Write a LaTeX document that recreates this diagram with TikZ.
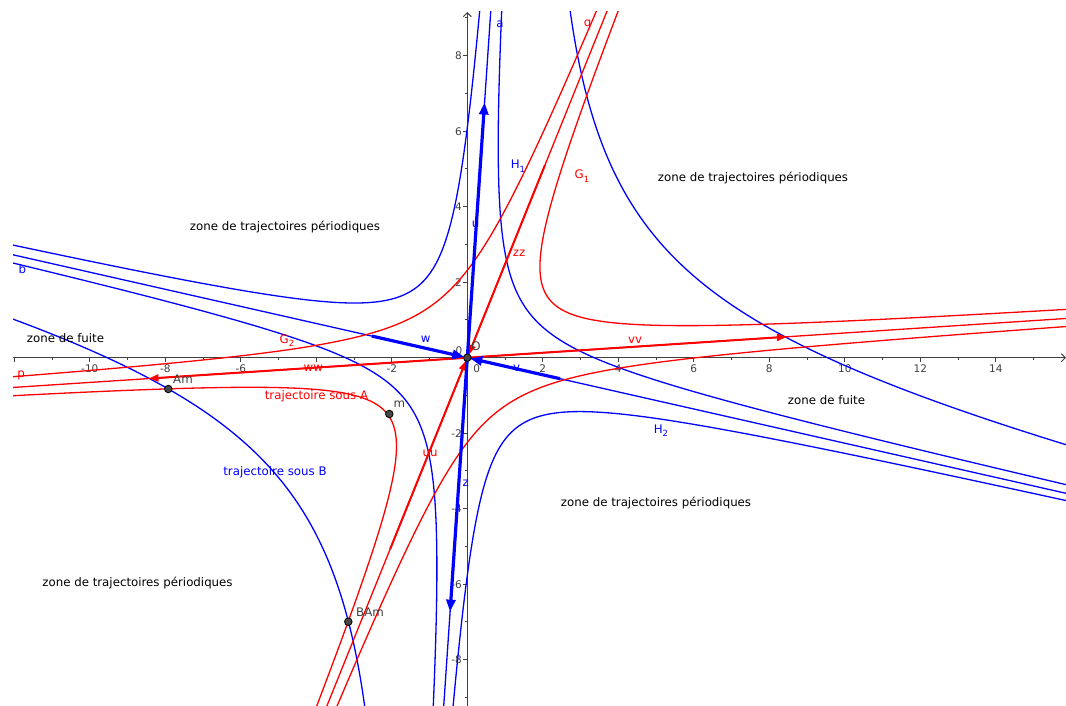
\documentclass[tikz,border=0pt]{standalone}
\usepackage{fontspec}
\setmainfont{DejaVu Sans}
\usetikzlibrary{arrows.meta}
\definecolor{gbblue}{RGB}{0,0,255}
\definecolor{gbred}{RGB}{255,0,0}
\definecolor{gbgray}{RGB}{64,64,64}
\newcommand\lblfont{\fontsize{11.8}{13}\selectfont}
\newcommand\axfont{\fontsize{10.5}{12}\selectfont}
\newcommand\subsc[1]{\raisebox{-0.55ex}{\fontsize{8.5}{9}\selectfont #1}}
% hyperbola branch in oblique coordinates: point = s*d1 + t*d2,
% s = s0 + k/tau, t = t0 + tau, tau = sigma*exp(l)
% #1 style, #2 s0, #3 t0, #4 k, #5 sigma, #6 domain of l
\newcommand\hbr[6]{%
  \draw[#1] plot[domain=#6, samples=260, variable=\l]
   ({(\dax)*((#2)+(#4)/((#5)*exp(\l))) + (\dbx)*((#3)+(#5)*exp(\l))},
    {(\day)*((#2)+(#4)/((#5)*exp(\l))) + (\dby)*((#3)+(#5)*exp(\l))});
}
\begin{document}
\begin{tikzpicture}[x=1pt,y=-1pt,
  bc/.style={gbblue, line width=1.3pt},
  rc/.style={gbred, line width=1.3pt},
  bvec/.style={gbblue, line width=3.2pt, -{Triangle[length=12pt,width=9pt]}},
  rvec/.style={gbred, line width=2pt, -{Triangle[length=10pt,width=7pt]}},
  txt/.style={inner sep=0pt, font=\lblfont},
  axtxt/.style={inner sep=0pt, font=\axfont, text=gbgray},
  ptn/.style={circle, fill=black!72, draw=black, line width=0.8pt, minimum size=7.6pt, inner sep=0pt},
  axisln/.style={gbgray, line width=1pt},
  math/.style={shift={(467.3,357.7)}, x={(37.75pt,0pt)}, y={(0pt,37.75pt)}},
  ]
\useasboundingbox (0,0) rectangle (1066,706);
\fill[white] (0,0) rectangle (1066,706);

% ---------- axes ----------
\coordinate (xa0) at (13,357.7);
\coordinate (xa1) at (1066,357.7);
\coordinate (ya0) at (467.3,706);
\coordinate (ya1) at (467.3,12);
\draw[axisln, -{Straight Barb[length=4pt,width=8pt]}] (xa0) -- (xa1);
\draw[axisln, -{Straight Barb[length=4pt,width=8pt]}] (ya0) -- (ya1);
\foreach \k in {-12,...,15}{
  \pgfmathsetmacro\xx{467.3+37.75*\k}
  \ifodd\k\relax
    \draw[axisln] (\xx,357.7) -- (\xx,359.8);
  \else
    \draw[axisln] (\xx,357.7) -- (\xx,362);
  \fi
}
\foreach \k in {-9,...,9}{
  \pgfmathsetmacro\yy{357.7-37.75*\k}
  \ifodd\k\relax
    \draw[axisln] (467.3,\yy) -- (465.2,\yy);
  \else
    \draw[axisln] (467.3,\yy) -- (463,\yy);
  \fi
}
\foreach \k in {-10,-8,-6,-2,2,4,6,8,10,12,14}{
  \pgfmathsetmacro\xx{467.3+37.75*\k}
  \node[axtxt] (xl\k) at (\xx,368.5) {\k};
}
\foreach \k in {-8,-6,-4,-2,2,4,6,8}{
  \pgfmathsetmacro\yy{357.7-37.75*\k}
  \node[axtxt, anchor=east] (yl\k) at (462,\yy) {\k};
}
\node[axtxt] (x0) at (476.7,368.5) {0};
\node[axtxt] (y0) at (459,351) {0};

% ---------- curves ----------
\begin{scope}
\clip (13,12) rectangle (1066,706);
\begin{scope}[math]
% blue system: d1 = (0.0677,1), d2 = (1,-0.2265)
\def\dax{0.0677}\def\day{1}\def\dbx{1}\def\dby{-0.2265}
\draw[bc] (-0.677,-10) -- (0.677,10);
\draw[bc] (-13,2.9445) -- (17,-3.8505);
\hbr{bc}{0.087}{-0.068}{-2.0}{-1}{-1.9:2.85}
\hbr{bc}{-0.06}{0.02}{-2.05}{1}{-1.9:2.85}
\hbr{bc}{0.09}{0.05}{2.15}{1}{-1.9:2.85}
\hbr{bc}{-0.035}{-0.04}{2.15}{-1}{-1.9:2.85}
\hbr{bc}{0}{0}{20}{1}{0.45:2.85}
\hbr{bc}{0}{0}{20}{-1}{0.45:2.85}
% red system: d1 = (0.4032,1), d2 = (1,0.0655)
\def\dax{0.4032}\def\day{1}\def\dbx{1}\def\dby{0.0655}
\draw[rc] (-13,-0.8515) -- (17,1.1135);
\draw[rc] (-4.032,-10) -- (4.032,10);
\hbr{rc}{0.127}{-0.07}{-2.0}{-1}{-1.9:2.85}
\hbr{rc}{-0.1}{0.07}{-1.9}{1}{-1.9:2.85}
\hbr{rc}{0.12}{0.08}{2.0}{1}{-1.9:2.85}
\hbr{rc}{-0.056}{-0.0575}{2.0}{-1}{-1.9:2.85}
\end{scope}
\end{scope}

% ---------- vectors ----------
\begin{scope}[math]
\coordinate (Oc) at (0,0);
\coordinate (utip) at (0.4577,6.76);
\coordinate (ztip) at (-0.4555,-6.728);
\coordinate (wst) at (-2.5245,0.5718);
\coordinate (vst) at (2.4556,-0.5562);
\coordinate (vvtip) at (8.469,0.5547);
\coordinate (wwtip) at (-8.445,-0.5532);
\coordinate (uust) at (-2.0433,-5.0676);
\coordinate (zzst) at (2.0583,5.105);
\end{scope}
\draw[rvec] (Oc) -- (vvtip);
\draw[rvec] (Oc) -- (wwtip);
\draw[rvec, shorten >=3pt] (uust) -- (Oc);
\draw[rvec, shorten >=3pt] (zzst) -- (Oc);
\draw[bvec] (Oc) -- (utip);
\draw[bvec] (Oc) -- (ztip);
\draw[bvec, shorten >=3pt] (wst) -- (Oc);
\draw[bvec, shorten >=3pt] (vst) -- (Oc);

% ---------- points ----------
\node[ptn] (O) at (Oc) {};
\node[ptn] (Am) at (168.3,389) {};
\node[ptn] (BAm) at (348.3,621.7) {};
\node[ptn] (m) at (389.3,414) {};

% ---------- labels ----------
\node[txt, text=gbblue] (la) at (500,24) {a};
\node[txt, text=gbred] (lq) at (587.7,24) {q};
\node[txt, text=gbblue] (lb) at (22.3,269) {b};
\node[txt, text=gbred] (lp) at (21,375.5) {p};
\node[txt, text=gbblue] (lH1) at (518,166) {H\subsc{1}};
\node[txt, text=gbred] (lG1) at (582,176) {G\subsc{1}};
\node[txt, text=gbred] (lG2) at (287,340.5) {G\subsc{2}};
\node[txt, text=gbblue] (lH2) at (661,430.5) {H\subsc{2}};
\node[txt, text=gbred] (lzz) at (519,253.3) {zz};
\node[txt, text=gbblue] (lu) at (475.5,224) {u};
\node[txt, text=gbblue] (lw) at (425.7,339.5) {w};
\node[txt, text=gbgray] (lO) at (476,346.5) {O};
\node[txt, text=gbblue] (lv) at (516.7,368) {v};
\node[txt, text=gbred] (lvv) at (635,340) {vv};
\node[txt, text=gbred] (lww) at (313.3,368.3) {ww};
\node[txt, text=gbgray] (lAm) at (183,379) {Am};
\node[txt, text=gbgray] (lm) at (399.3,404) {m};
\node[txt, text=gbgray] (lBAm) at (370,612) {BAm};
\node[txt, text=gbred] (lsA) at (316.5,396.5) {trajectoire sous A};
\node[txt, text=gbblue] (lsB) at (275,472) {trajectoire sous B};
\node[txt, text=gbred] (luu) at (430,453.5) {uu};
\node[txt, text=gbblue] (lz) at (465.7,483.5) {z};
\node[txt] (zp1) at (285,227.5) {zone de trajectoires périodiques};
\node[txt] (zp2) at (753,178) {zone de trajectoires périodiques};
\node[txt] (zp3) at (656,503.5) {zone de trajectoires périodiques};
\node[txt] (zp4) at (137.5,583) {zone de trajectoires périodiques};
\node[txt] (zf1) at (65.5,338.5) {zone de fuite};
\node[txt] (zf2) at (826.5,400) {zone de fuite};
\end{tikzpicture}
\end{document}
